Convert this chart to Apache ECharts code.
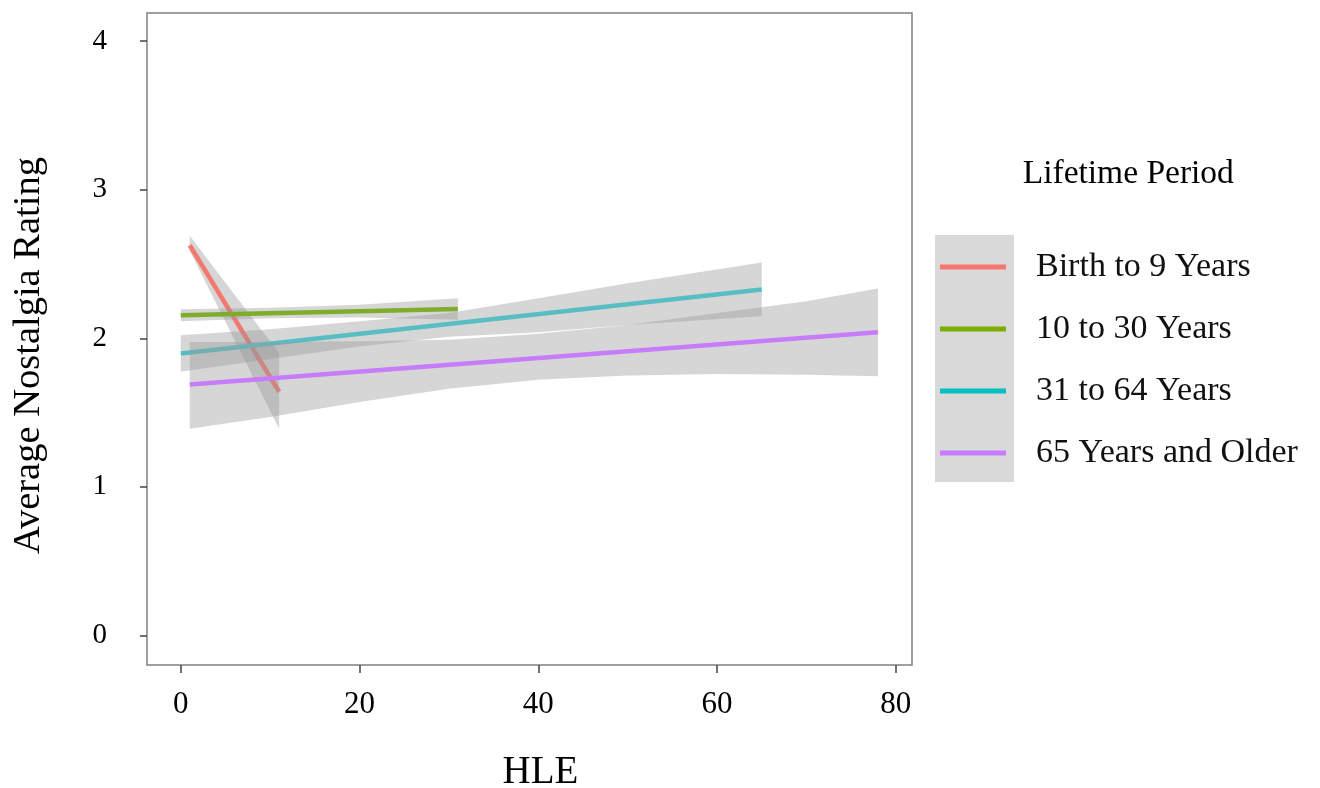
<!DOCTYPE html>
<html>
<head>
<meta charset="utf-8">
<script src="https://cdn.jsdelivr.net/npm/echarts@6/dist/echarts.min.js"></script>
<style>
html,body{margin:0;padding:0;background:#fff;}
#chart{width:1320px;height:788px;}
</style>
</head>
<body>
<div id="chart"></div>
<script>
// ---- data ----
const periods = ['Birth to 9 Years', '10 to 30 Years', '31 to 64 Years', '65 Years and Older'];
const xTicks = [0, 20, 40, 60, 80];
const yTicks = [0, 1, 2, 3, 4];
// fitted line end points
const fitX = [[1, 11], [0, 31], [0, 65], [1, 78]];
const fitY = [[2.626, 1.64], [2.155, 2.197], [1.898, 2.328], [1.688, 2.04]];
// confidence bands
const bandX = [
  [1, 6, 11],
  [0, 10, 20, 31],
  [0, 10, 20, 30, 40, 50, 65],
  [1, 10, 20, 30, 40, 50, 60, 70, 78]
];
const bandLo = [
  [2.59, 1.99, 1.39],
  [2.115, 2.135, 2.14, 2.125],
  [1.775, 1.86, 1.945, 2.01, 2.04, 2.09, 2.148],
  [1.39, 1.47, 1.57, 1.66, 1.72, 1.75, 1.76, 1.755, 1.745]
];
const bandHi = [
  [2.69, 2.295, 1.90],
  [2.195, 2.205, 2.225, 2.27],
  [2.02, 2.06, 2.115, 2.17, 2.27, 2.37, 2.51],
  [1.975, 1.975, 1.98, 1.99, 2.03, 2.09, 2.17, 2.25, 2.335]
];

const lineColors = ['#F2796F', '#7DAD2B', '#58BEC4', '#C77CF9'];
const keyColors = ['#F8766D', '#7CAE00', '#00BFC4', '#C77CFF'];
const FONT = '"Liberation Serif", "Times New Roman", serif';

const chart = echarts.init(document.getElementById('chart'));

const series = [];
periods.forEach((name, k) => {
  series.push({
    type: 'custom',
    name: 'band' + k,
    silent: true,
    z: 2 * k + 1,
    data: bandX[k].map((x, i) => [x, bandLo[k][i], bandHi[k][i]]),
    encode: { x: 0, y: [1, 2] },
    renderItem: function (params, api) {
      if (params.dataIndex !== 0) return;
      const pts = [];
      for (let i = 0; i < bandX[k].length; i++) pts.push(api.coord([bandX[k][i], bandHi[k][i]]));
      for (let i = bandX[k].length - 1; i >= 0; i--) pts.push(api.coord([bandX[k][i], bandLo[k][i]]));
      return { type: 'polygon', shape: { points: pts }, style: { fill: 'rgba(153,153,153,0.4)' } };
    }
  });
  series.push({
    type: 'line',
    name: name,
    z: 2 * k + 2,
    showSymbol: false,
    silent: true,
    color: keyColors[k],
    lineStyle: { color: lineColors[k], width: 4.5 },
    data: fitX[k].map((x, i) => [x, fitY[k][i]])
  });
});

chart.setOption({
  animation: false,
  grid: {
    left: 147, right: 408, top: 13, bottom: 123,
    show: true, borderColor: '#808080', borderWidth: 1.5, backgroundColor: 'transparent'
  },
  xAxis: {
    type: 'value', min: -3.78, max: 81.81, position: 'bottom',
    axisLine: { show: false, onZero: false },
    splitLine: { show: false },
    axisTick: { show: true, inside: false, length: 8, lineStyle: { color: '#444', width: 1.5 }, customValues: xTicks },
    axisLabel: { customValues: xTicks, fontFamily: FONT, fontSize: 31, color: '#000', margin: 24 }
  },
  yAxis: {
    type: 'value', min: -0.2, max: 4.19, position: 'left',
    axisLine: { show: false, onZero: false },
    splitLine: { show: false },
    axisTick: { show: true, inside: false, length: 7, lineStyle: { color: '#444', width: 1.5 }, customValues: yTicks },
    axisLabel: { customValues: yTicks, fontFamily: FONT, fontSize: 29, color: '#000', margin: 40 }
  },
  legend: {
    orient: 'vertical',
    left: 935, top: 242,
    icon: 'rect',
    itemWidth: 66, itemHeight: 5,
    itemGap: 22,
    itemTextGap: 31,
    selectedMode: false,
    data: periods.map((p, k) => ({ name: p, itemStyle: { color: keyColors[k] } })),
    textStyle: { fontFamily: FONT, fontSize: 34, color: '#111', lineHeight: 40, padding: [0, 0, 0, 25] }
  },
  graphic: [
    { type: 'rect', z: -10, shape: { x: 935, y: 235, width: 79, height: 247 }, style: { fill: '#d9d9d9' } },
    { type: 'text', x: 1022.7, y: 174, style: { text: 'Lifetime Period', font: '33.5px ' + FONT, fill: '#000', textAlign: 'left', textVerticalAlign: 'middle' } },
    { type: 'text', x: 540.5, y: 773, style: { text: 'HLE', font: '39px ' + FONT, fill: '#000', textAlign: 'center', textVerticalAlign: 'middle' } },
    { type: 'text', x: 29, y: 355.5, rotation: Math.PI / 2, style: { text: 'Average Nostalgia Rating', font: '38.5px ' + FONT, fill: '#000', textAlign: 'center', textVerticalAlign: 'middle' } }
  ],
  series: series
});
</script>
</body>
</html>
